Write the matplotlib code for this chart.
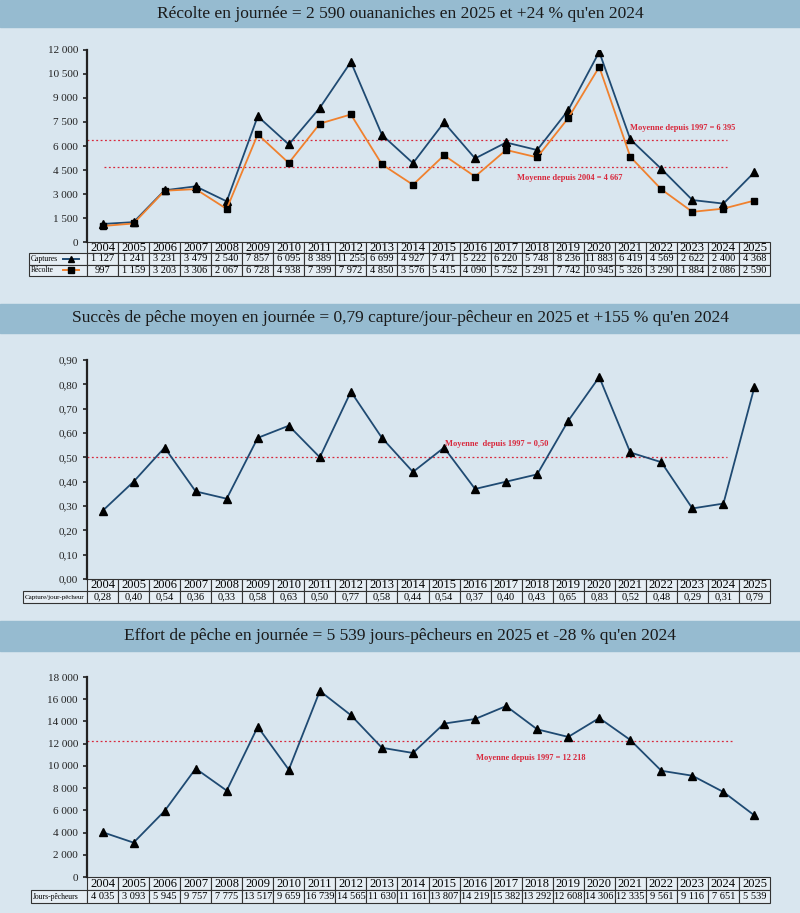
import matplotlib.pyplot as plt
from matplotlib.patches import Rectangle
from matplotlib.ticker import FuncFormatter

plt.rcParams['font.family'] = ['Liberation Serif', 'DejaVu Serif']

years = list(range(2004, 2026))
captures = [1127, 1241, 3231, 3479, 2540, 7857, 6095, 8389, 11255, 6699, 4927,
            7471, 5222, 6220, 5748, 8236, 11883, 6419, 4569, 2622, 2400, 4368]
recolte = [997, 1159, 3203, 3306, 2067, 6728, 4938, 7399, 7972, 4850, 3576,
           5415, 4090, 5752, 5291, 7742, 10945, 5326, 3290, 1884, 2086, 2590]
succes = [0.28, 0.40, 0.54, 0.36, 0.33, 0.58, 0.63, 0.50, 0.77, 0.58, 0.44,
          0.54, 0.37, 0.40, 0.43, 0.65, 0.83, 0.52, 0.48, 0.29, 0.31, 0.79]
effort = [4035, 3093, 5945, 9757, 7775, 13517, 9659, 16739, 14565, 11630, 11161,
          13807, 14219, 15382, 13292, 12608, 14306, 12335, 9561, 9116, 7651, 5539]

moy_cap_1997 = 6395
moy_cap_2004 = 4667
moy_succes_1997 = 0.50
moy_effort_1997 = 12218

titles = ["Récolte en journée = 2 590 ouananiches en 2025 et +24 % qu'en 2024",
          "Succès de pêche moyen en journée = 0,79 capture/jour-pêcheur en 2025 et +155 % qu'en 2024",
          "Effort de pêche en journée = 5 539 jours-pêcheurs en 2025 et -28 % qu'en 2024"]

BG = '#d9e6ef'
BAND = '#96bbd0'
BLUE = '#1f4a72'
ORANGE = '#f0812e'
RED = '#d8283c'

W, H = 800, 913
fig = plt.figure(figsize=(8, 9.13), dpi=100, facecolor=BG)


def band(y0, y1, text):
    fig.patches.append(Rectangle((0, 1 - y1 / H), 1, (y1 - y0) / H,
                                 transform=fig.transFigure, color=BAND, zorder=0))
    fig.text(0.5, 1 - (y0 + y1) / 2 / H, text, ha='center', va='center',
             fontsize=12.5, color='#1a1a1a')


def thousands(v, pos):
    return f'{int(round(v)):,}'.replace(',', ' ')


def make_axes(top, bottom):
    left, right = 87, 770
    ax = fig.add_axes([left / W, 1 - bottom / H, (right - left) / W, (bottom - top) / H])
    ax.set_facecolor('none')
    for s in ['top', 'right', 'bottom']:
        ax.spines[s].set_visible(False)
    ax.spines['left'].set_linewidth(1.6)
    ax.spines['left'].set_color('#222222')
    ax.set_xlim(-0.5, len(years) - 0.5)
    ax.set_xticks([])
    ax.tick_params(axis='y', labelsize=8, length=3, width=1.2, colors='#222222')
    return ax


def make_table(ax, rows, labels, h, lw, fs_lab):
    cell_text = [[''] + [str(y) for y in years]]
    for lab, r in zip(labels, rows):
        cell_text.append([lab] + r)
    tb = ax.table(cellText=cell_text,
                  colWidths=[lw] + [1 / len(years)] * len(years),
                  cellLoc='center', bbox=[-lw, -h, 1 + lw, h])
    tb.auto_set_font_size(False)
    for (r, c), cell in tb.get_celld().items():
        cell.set_edgecolor('#333333')
        cell.set_linewidth(0.8)
        cell.set_facecolor('#e6eef4')
        cell.PAD = 0.03
        if r == 0:
            cell.get_text().set_fontsize(9)
        else:
            cell.get_text().set_fontsize(7.5)
        if c == 0:
            cell.get_text().set_fontsize(fs_lab)
            cell.get_text().set_ha('left')
            cell._loc = 'left'
            if r == 0:
                cell.set_visible(False)
    return tb


def fmt_int(v):
    return f'{v:,}'.replace(',', ' ')


x = list(range(len(years)))

# ---- Panneau 1 : captures et récolte
band(0, 27, titles[0])
ax1 = make_axes(50, 242)
ax1.set_ylim(0, 12000)
ax1.set_yticks(range(0, 12001, 1500))
ax1.yaxis.set_major_formatter(FuncFormatter(thousands))
ax1.plot(x, captures, color=BLUE, lw=1.3, marker='^', ms=5.5, mfc='black', mec='black', zorder=3)
ax1.plot(x, recolte, color=ORANGE, lw=1.3, marker='s', ms=5, mfc='black', mec='black', zorder=3)
ax1.hlines(moy_cap_1997, -0.5, 20.1, colors=RED, linestyles=(0, (1.5, 2)), lw=0.9)
ax1.hlines(moy_cap_2004, 0.05, 20.1, colors=RED, linestyles=(0, (1.5, 2)), lw=0.9)
ax1.text(18.7, 7150, 'Moyenne depuis 1997 = 6 395', color=RED, fontsize=6,
         fontweight='bold', ha='center', va='center')
ax1.text(15.05, 4000, 'Moyenne depuis 2004 = 4 667', color=RED, fontsize=6,
         fontweight='bold', ha='center', va='center')
make_table(ax1, [[fmt_int(v) for v in captures], [fmt_int(v) for v in recolte]],
           ['Captures', 'Récolte'], 34 / 192, 58 / 683, 5.5)
# petits symboles de légende dans les étiquettes de lignes
for row, col, mk in [(1, BLUE, '^'), (2, ORANGE, 's')]:
    yv = -(row + 0.5) * (34 / 192) / 3
    ax1.plot([-0.035, -0.012], [yv, yv], color=col, lw=1.4, transform=ax1.transAxes, clip_on=False)
    ax1.plot([-0.0235], [yv], marker=mk, ms=4, color='black', transform=ax1.transAxes, clip_on=False)

# ---- Panneau 2 : succès de pêche
band(304, 333, titles[1])
ax2 = make_axes(360, 579)
ax2.set_ylim(0, 0.9)
ax2.set_yticks([i / 10 for i in range(10)])
ax2.yaxis.set_major_formatter(FuncFormatter(lambda v, p: f'{v:.2f}'.replace('.', ',')))
ax2.plot(x, succes, color=BLUE, lw=1.3, marker='^', ms=5.5, mfc='black', mec='black', zorder=3)
ax2.hlines(moy_succes_1997, -0.5, 20.1, colors=RED, linestyles=(0, (1.5, 2)), lw=0.9)
ax2.text(12.7, 0.555, 'Moyenne  depuis 1997 = 0,50', color=RED, fontsize=6,
         fontweight='bold', ha='center', va='center')
make_table(ax2, [[f'{v:.2f}'.replace('.', ',') for v in succes]],
           ['Capture/jour-pêcheur'], 24 / 219, 64 / 683, 5)

# ---- Panneau 3 : effort de pêche
band(621, 651, titles[2])
ax3 = make_axes(677, 877)
ax3.set_ylim(0, 18000)
ax3.set_yticks(range(0, 18001, 2000))
ax3.yaxis.set_major_formatter(FuncFormatter(thousands))
ax3.plot(x, effort, color=BLUE, lw=1.3, marker='^', ms=5.5, mfc='black', mec='black', zorder=3)
ax3.hlines(moy_effort_1997, -0.5, 20.35, colors=RED, linestyles=(0, (1.5, 2)), lw=0.9)
ax3.text(13.8, 10700, 'Moyenne depuis 1997 = 12 218', color=RED, fontsize=6,
         fontweight='bold', ha='center', va='center')
make_table(ax3, [[fmt_int(v) for v in effort]], ['Jours-pêcheurs'], 26 / 200, 56 / 683, 5.5)

fig.savefig('out.png', dpi=100, facecolor=BG)
